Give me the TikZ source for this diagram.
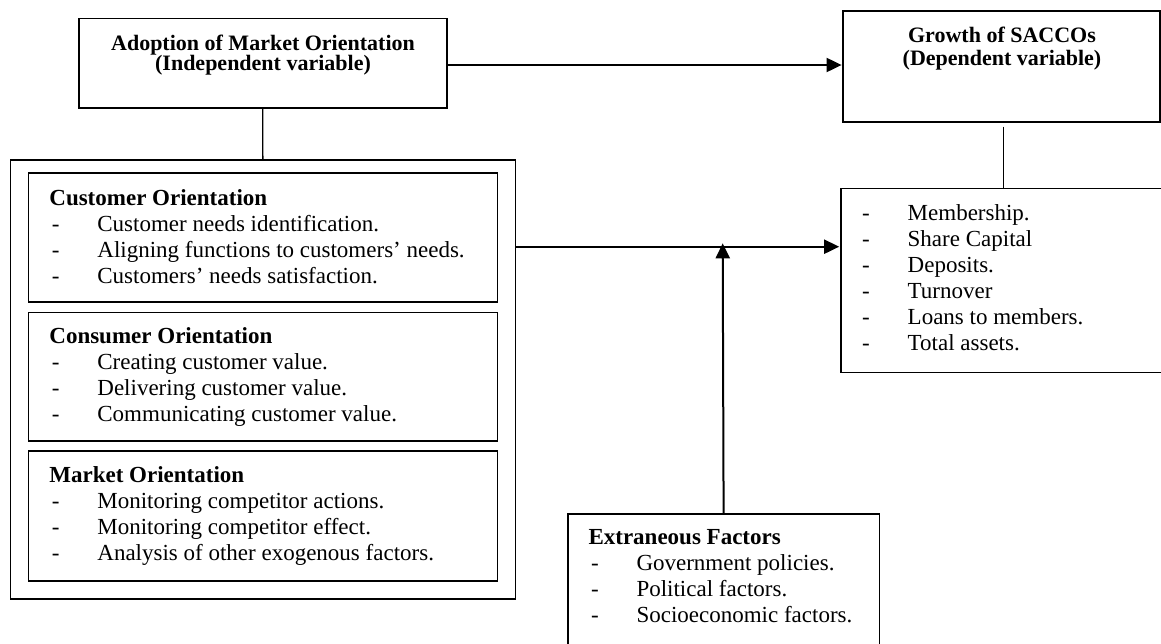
\documentclass[tikz,border=0pt]{standalone}
\usepackage{fontspec}
\setmainfont{Liberation Serif}
\usetikzlibrary{arrows.meta}
\tikzset{
  box/.style={draw, line width=1.6pt, rectangle, inner sep=0pt, outer sep=0pt, anchor=north west},
  thinline/.style={line width=1.3pt},
  arr/.style={line width=2pt, -{Triangle[length=15pt,width=14pt]}},
  txt/.style={inner sep=0pt, anchor=base west, font=\fontsize{23}{26}\selectfont},
  ttl/.style={inner sep=0pt, anchor=base, font=\fontsize{22}{26}\selectfont\bfseries},
}
\newcommand\itm[1]{\makebox[48pt][l]{\hspace{2.5pt}-}#1}
\begin{document}
\begin{tikzpicture}[x=1pt,y=-1pt]
\clip (0,0) rectangle (1161,643);
\fill[white] (0,0) rectangle (1161,643);
% boxes
\node[box, minimum width=368pt, minimum height=89.4pt] (adopt) at (78.8,18.3) {};
\node[box, minimum width=316.8pt, minimum height=111pt] (growth) at (843.1,10.7) {};
\node[box, minimum width=504.9pt, minimum height=439pt] (outer) at (10.4,160) {};
\node[box, minimum width=469pt, minimum height=129pt] (b1) at (28.5,172.7) {};
\node[box, minimum width=469pt, minimum height=128.7pt] (b2) at (28.5,312.3) {};
\node[box, minimum width=469pt, minimum height=130pt] (b3) at (28.5,451) {};
\node[box, minimum width=340pt, minimum height=184pt] (rbox) at (841.2,188.3) {};
\node[box, minimum width=311.6pt, minimum height=150pt] (ext) at (567.8,514) {};
% titles of top boxes
\node[ttl] (a1) at (263,50.5) {Adoption of Market Orientation};
\node[ttl] (a2) at (263,70.5) {(Independent variable)};
\node[ttl] (g1) at (1002,42.5) {Growth of SACCOs};
\node[ttl] (g2) at (1002,65) {(Dependent variable)};
% lists
\node[txt] (t1) at (49.2,205) {\begin{tabular}[t]{@{}l@{}}\textbf{Customer Orientation}\\
  \itm{Customer needs identification.}\\
  \itm{Aligning functions to customers’ needs.}\\
  \itm{Customers’ needs satisfaction.}\end{tabular}};
\node[txt] (t2) at (49.2,343) {\begin{tabular}[t]{@{}l@{}}\textbf{Consumer Orientation}\\
  \itm{Creating customer value.}\\
  \itm{Delivering customer value.}\\
  \itm{Communicating customer value.}\end{tabular}};
\node[txt] (t3) at (49.2,482) {\begin{tabular}[t]{@{}l@{}}\textbf{Market Orientation}\\
  \itm{Monitoring competitor actions.}\\
  \itm{Monitoring competitor effect.}\\
  \itm{Analysis of other exogenous factors.}\end{tabular}};
\node[txt] (t4) at (859.5,220.7) {\begin{tabular}[t]{@{}l@{}}
  \itm{Membership.}\\
  \itm{Share Capital}\\
  \itm{Deposits.}\\
  \itm{Turnover}\\
  \itm{Loans to members.}\\
  \itm{Total assets.}\end{tabular}};
\node[txt] (t5) at (588.3,544.5) {\begin{tabular}[t]{@{}l@{}}\textbf{Extraneous Factors}\\
  \itm{Government policies.}\\
  \itm{Political factors.}\\
  \itm{Socioeconomic factors.}\end{tabular}};
% connectors
\coordinate (jn) at (722.7,246.7);
\draw[arr, shorten >=1.5pt] ([yshift=-2pt]adopt.east) -- ([yshift=-2pt]adopt.east -| growth.west);
\draw[thinline] (adopt.south) -- (outer.north);
\draw[thinline] ([xshift=2pt,yshift=-5pt]growth.south) -- ([xshift=2pt]growth.south |- rbox.north);
\draw[arr, shorten >=2pt] (outer.east |- jn) -- (jn -| rbox.west);
\draw[arr, shorten >=-3.4pt] (ext.north) -- (jn);
\end{tikzpicture}
\end{document}
